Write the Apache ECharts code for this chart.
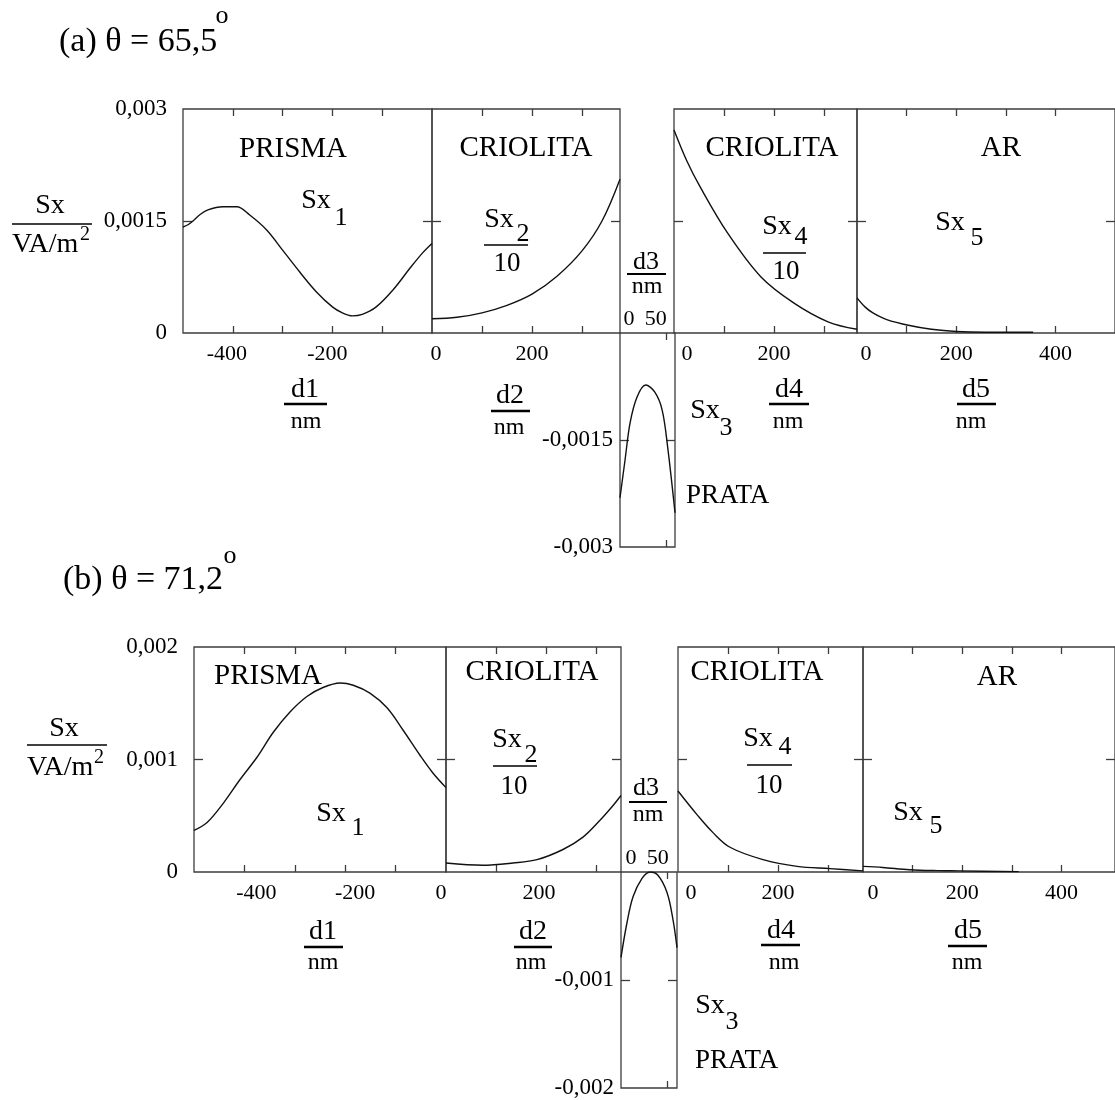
<!DOCTYPE html>
<html>
<head>
<meta charset="utf-8">
<script src="https://cdn.jsdelivr.net/npm/echarts@6/dist/echarts.min.js"></script>
<style>
  html, body { margin: 0; padding: 0; background: #fff; }
  #chart { width: 1115px; height: 1100px; }
</style>
</head>
<body>
<div id="chart"></div>
<script>
// Poynting component Sx (VA/m²) across the layer stack, thickness d in nm.
// Layers 2 and 4 (cryolite) are plotted as Sx/10.

// ---- (a) θ = 65,5° ----
const d1A  = [-500, -490, -480, -465, -450, -420, -392, -366, -332, -300, -266, -232, -200, -180, -160, -140, -112, -78, -44, -18, 0];
const sx1A = [0.00142, 0.00145, 0.00150, 0.00159, 0.00165, 0.00169, 0.00169, 0.00158, 0.00138, 0.00111, 0.00082, 0.00055, 0.00035, 0.00027, 0.00023, 0.00025, 0.00035, 0.00058, 0.00087, 0.00108, 0.0012];
const d2A  = [0, 50, 100, 150, 200, 250, 300, 340, 376];
const sx2A = [0.00019, 0.00021, 0.00027, 0.00037, 0.00052, 0.00076, 0.00110, 0.00150, 0.00206];
const d3A  = [0, 5.5, 11, 18.5, 28, 38, 46, 52, 60];
const sx3A = [-0.00231, -0.00178, -0.00126, -0.0009, -0.00073, -0.00083, -0.00108, -0.0016, -0.00252];
const d4A  = [0, 26, 52, 107, 174, 240, 308, 366];
const sx4A = [0.00272, 0.0023, 0.00196, 0.00134, 0.00075, 0.0004, 0.00015, 0.00005];
const d5A  = [0, 16, 32, 60, 106, 150, 200, 260, 355];
const sx5A = [0.00047, 0.00035, 0.00027, 0.00018, 0.0001, 0.00005, 0.00002, 0.00001, 0.00001];

// ---- (b) θ = 71,2° ----
const d1B  = [-500, -474, -442, -409, -375, -343, -310, -276, -244, -210, -184, -151, -117, -85, -52, -26, 0];
const sx1B = [0.00037, 0.00044, 0.00061, 0.00082, 0.00102, 0.00124, 0.00142, 0.00156, 0.00164, 0.00168, 0.00166, 0.00159, 0.00146, 0.00126, 0.00104, 0.00088, 0.00075];
const d2B  = [0, 74, 134, 182, 234, 274, 308, 332, 350];
const sx2B = [0.00008, 0.00006, 0.00008, 0.00011, 0.0002, 0.00031, 0.00046, 0.00058, 0.00068];
const d3B  = [0, 6.4, 12.9, 22.5, 31, 39.6, 49.3, 55.7, 60];
const sx3B = [-0.00079, -0.00047, -0.00023, -0.00006, 0, -0.00003, -0.00019, -0.00044, -0.0007];
const d4B  = [0, 38, 70, 104, 170, 238, 304, 370];
const sx4B = [0.00072, 0.00051, 0.00035, 0.00022, 0.00011, 0.00005, 0.00003, 0.00001];
const d5B  = [0, 40, 94, 150, 194, 314];
const sx5B = [0.00005, 0.00004, 0.00002, 0.000012, 0.00001, 0.000003];

// ---- ticks and tick labels ----
const d1Ticks = [-400, -300, -200, -100];
const d1Labels = [-400, -200];
const d2Ticks = [100, 200, 300];
const d2Labels = [0, 200];
const d3Ticks = [50];
const d3Labels = [0, 50];
const d4Ticks = [100, 200, 300];
const d4Labels = [0, 200];
const d5Ticks = [100, 200, 300, 400];
const d5Labels = [0, 200, 400];
const yTicksA = [0.0015];
const yLabelsA = [0, 0.0015, 0.003];
const y3TicksA = [-0.0015];
const y3LabelsA = [-0.003, -0.0015];
const yTicksB = [0.001];
const yLabelsB = [0, 0.001, 0.002];
const y3TicksB = [-0.001];
const y3LabelsB = [-0.002, -0.001];

const FONT = 'Liberation Serif';
const AX = '#3c3c3c';
const INK = '#111';

const fmt = v => String(v).replace('.', ',');

// one box per layer: [left, top, width, height] in px
const panels = [
  { box: [183, 109, 249, 224], xr: [-500, 0], yr: [0, 0.003], xTicks: d1Ticks, xLabels: d1Labels, yTicks: yTicksA, yLabels: yLabelsA, xs: d1A, ys: sx1A, shift: { '-400': -6, '-200': -5 } },
  { box: [432, 109, 188, 224], xr: [0, 376], yr: [0, 0.003], xTicks: d2Ticks, xLabels: d2Labels, yTicks: yTicksA, xs: d2A, ys: sx2A, shift: { '0': 4 } },
  { box: [620, 333, 55, 214], xr: [0, 60], yr: [-0.003, 0], xTicks: d3Ticks, xLabels: d3Labels, labelTop: true, yTicks: y3TicksA, yLabels: y3LabelsA, yMargin: 7, xs: d3A, ys: sx3A, shift: { '0': 9, '50': -10 } },
  { box: [674, 109, 183, 224], xr: [0, 366], yr: [0, 0.003], xTicks: d4Ticks, xLabels: d4Labels, yTicks: yTicksA, xs: d4A, ys: sx4A, shift: { '0': 13 } },
  { box: [857, 109, 260, 224], xr: [0, 520], yr: [0, 0.003], xTicks: d5Ticks, xLabels: d5Labels, yTicks: yTicksA, xs: d5A, ys: sx5A, shift: { '0': 9 } },

  { box: [194, 647, 252, 225], xr: [-500, 0], yr: [0, 0.002], xTicks: d1Ticks, xLabels: d1Labels, yTicks: yTicksB, yLabels: yLabelsB, xs: d1B, ys: sx1B, shift: { '-400': 12, '-200': 10 } },
  { box: [446, 647, 175, 225], xr: [0, 350], yr: [0, 0.002], xTicks: d2Ticks, xLabels: d2Labels, yTicks: yTicksB, xs: d2B, ys: sx2B, shift: { '0': -5, '200': -7 } },
  { box: [621, 872, 56, 216], xr: [0, 60], yr: [-0.002, 0], xTicks: d3Ticks, xLabels: d3Labels, labelTop: true, yTicks: y3TicksB, yLabels: y3LabelsB, yMargin: 7, xs: d3B, ys: sx3B, shift: { '0': 10, '50': -10 } },
  { box: [678, 647, 185, 225], xr: [0, 370], yr: [0, 0.002], xTicks: d4Ticks, xLabels: d4Labels, yTicks: yTicksB, xs: d4B, ys: sx4B, shift: { '0': 13 } },
  { box: [863, 647, 254, 225], xr: [0, 508], yr: [0, 0.002], xTicks: d5Ticks, xLabels: d5Labels, yTicks: yTicksB, xs: d5B, ys: sx5B, shift: { '0': 10 } }
];

// per-label horizontal nudge done with rich-text padding
function shiftedLabels(shift, size) {
  const keys = Object.keys(shift || {});
  const rich = {};
  keys.forEach((k, i) => {
    const dx = shift[k];
    rich['s' + i] = {
      fontFamily: FONT, fontSize: size, color: '#000',
      padding: dx >= 0 ? [0, 0, 0, 2 * dx] : [0, -2 * dx, 0, 0]
    };
  });
  return {
    rich,
    formatter: v => {
      const i = keys.indexOf(String(v));
      return i >= 0 ? '{s' + i + '|' + fmt(v) + '}' : fmt(v);
    }
  };
}

const grid = [], xAxis = [], yAxis = [], series = [];
const tickStyle = { color: AX, width: 1.3 };

panels.forEach((p, i) => {
  grid.push({
    left: p.box[0], top: p.box[1], width: p.box[2], height: p.box[3],
    show: true, borderColor: AX, borderWidth: 1.3, backgroundColor: 'transparent'
  });
  const xi = xAxis.length, yi = yAxis.length;
  const lab = shiftedLabels(p.shift, 22);
  ['bottom', 'top'].forEach(pos => {
    const withLabels = p.labelTop ? pos === 'top' : pos === 'bottom';
    xAxis.push({
      gridIndex: i, type: 'value', position: pos, min: p.xr[0], max: p.xr[1],
      axisLine: { show: false, onZero: false }, splitLine: { show: false },
      axisTick: { show: true, inside: true, length: 7, customValues: p.xTicks, lineStyle: tickStyle },
      axisLabel: {
        show: withLabels, customValues: p.xLabels, margin: p.labelTop ? 3 : 10,
        fontFamily: FONT, fontSize: 22, color: '#000',
        formatter: lab.formatter, rich: lab.rich
      }
    });
  });
  ['left', 'right'].forEach(pos => {
    const withLabels = pos === 'left' && !!p.yLabels;
    yAxis.push({
      gridIndex: i, type: 'value', position: pos, min: p.yr[0], max: p.yr[1],
      axisLine: { show: false, onZero: false }, splitLine: { show: false },
      axisTick: { show: true, inside: true, length: 9, customValues: p.yTicks, lineStyle: tickStyle },
      axisLabel: {
        show: withLabels, customValues: p.yLabels || [], margin: p.yMargin || 16,
        fontFamily: FONT, fontSize: 23, color: '#000', formatter: fmt
      }
    });
  });
  series.push({
    type: 'line', xAxisIndex: xi, yAxisIndex: yi,
    data: p.xs.map((x, k) => [x, p.ys[k]]),
    smooth: 0.35, showSymbol: false, silent: true,
    lineStyle: { color: INK, width: 1.4 }
  });
});

// ---- annotation texts ----
function T(x, y, s, size, align) {
  return {
    type: 'text', x: x, y: y, z: 100,
    style: {
      text: s, fontFamily: FONT, fontSize: size, fill: '#000',
      textAlign: align || 'center', align: align || 'center',
      textVerticalAlign: 'middle', verticalAlign: 'middle'
    }
  };
}
function L(x1, x2, y, w) {
  return { type: 'line', z: 100, shape: { x1: x1, y1: y, x2: x2, y2: y }, style: { stroke: '#000', lineWidth: w } };
}

const graphic = [
  // titles
  T(59, 42, '(a) θ = 65,5', 34, 'left'), T(222, 16, 'o', 26),
  T(63, 580, '(b) θ = 71,2', 34, 'left'), T(230, 556, 'o', 26),

  // vertical axis titles
  T(50, 206, 'Sx', 28), L(12, 92, 224, 1.6), T(12, 245, 'VA/m', 28, 'left'), T(85, 235, '2', 20),
  T(64, 729, 'Sx', 28), L(27, 107, 745, 1.6), T(27, 768, 'VA/m', 28, 'left'), T(99, 758, '2', 20),

  // (a) layer names and curve labels
  T(293, 149, 'PRISMA', 29), T(526, 148, 'CRIOLITA', 29), T(772, 148, 'CRIOLITA', 29), T(1001, 148, 'AR', 29),
  T(316, 201, 'Sx', 28), T(341, 218, '1', 26),
  T(499, 220, 'Sx', 28), T(523, 234, '2', 26), L(484, 528, 245, 1.5), T(507, 264, '10', 27),
  T(777, 227, 'Sx', 28), T(801, 237, '4', 26), L(763, 806, 253, 1.5), T(786, 272, '10', 27),
  T(950, 223, 'Sx', 28), T(977, 238, '5', 26),
  T(705, 411, 'Sx', 28), T(726, 428, '3', 26), T(686, 496, 'PRATA', 27, 'left'),

  // (a) thickness axis titles
  T(305, 390, 'd1', 28), L(284, 327, 404, 2.4), T(306, 422, 'nm', 24),
  T(510, 396, 'd2', 28), L(491, 530, 411, 2.4), T(509, 428, 'nm', 24),
  T(646, 262, 'd3', 26), L(627, 666, 274, 2.2), T(647, 287, 'nm', 24),
  T(789, 390, 'd4', 28), L(769, 809, 404, 2.4), T(788, 422, 'nm', 24),
  T(976, 390, 'd5', 28), L(957, 996, 404, 2.4), T(971, 422, 'nm', 24),

  // (b) layer names and curve labels
  T(268, 676, 'PRISMA', 29), T(532, 672, 'CRIOLITA', 29), T(757, 672, 'CRIOLITA', 29), T(997, 677, 'AR', 29),
  T(331, 814, 'Sx', 28), T(358, 828, '1', 26),
  T(507, 740, 'Sx', 28), T(531, 755, '2', 26), L(493, 537, 766, 1.5), T(514, 787, '10', 27),
  T(758, 739, 'Sx', 28), T(785, 747, '4', 26), L(747, 792, 765, 1.5), T(769, 786, '10', 27),
  T(908, 813, 'Sx', 28), T(936, 826, '5', 26),
  T(710, 1006, 'Sx', 28), T(732, 1022, '3', 26), T(695, 1061, 'PRATA', 27, 'left'),

  // (b) thickness axis titles
  T(323, 932, 'd1', 28), L(304, 343, 947, 2.4), T(323, 963, 'nm', 24),
  T(533, 932, 'd2', 28), L(514, 552, 947, 2.4), T(531, 963, 'nm', 24),
  T(646, 788, 'd3', 26), L(629, 667, 802, 2.2), T(648, 815, 'nm', 24),
  T(781, 931, 'd4', 28), L(761, 800, 945, 2.4), T(784, 963, 'nm', 24),
  T(968, 931, 'd5', 28), L(948, 987, 946, 2.4), T(967, 963, 'nm', 24)
];

const chart = echarts.init(document.getElementById('chart'), null, { renderer: 'canvas' });
chart.setOption({
  animation: false,
  backgroundColor: '#fff',
  grid, xAxis, yAxis, series, graphic
});
</script>
</body>
</html>
